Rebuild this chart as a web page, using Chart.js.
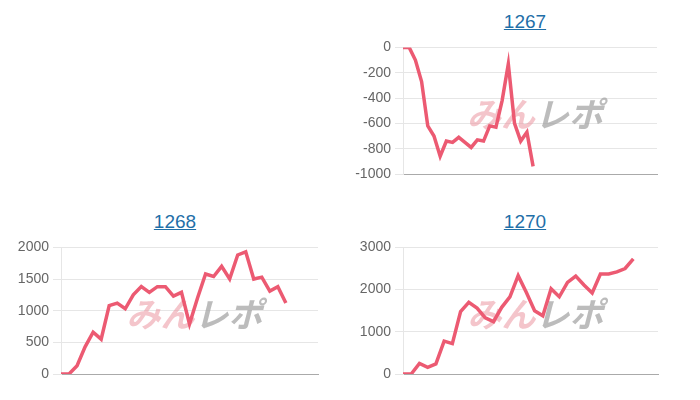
<!DOCTYPE html>
<html>
<head>
  <style>
    body { margin: 0; width: 700px; height: 400px; position: relative; font-family: Arial, "Liberation Sans", sans-serif; background: #fff; }
    .cell { position: absolute; width: 350px; height: 200px; }
    .title { position: absolute; left: 0; width: 100%; top: 11px; text-align: center; font-size: 19px; }
    .title a { color: #1f6fa8; text-decoration: underline; }
    canvas { position: absolute; left: 0; top: 35px; }
  </style>
</head>
<body>
  <div class="cell" style="left:350px;top:0"><div class="title"><a href="#">1267</a></div><canvas id="c1267" width="350" height="165"></canvas></div>
  <div class="cell" style="left:0;top:200px"><div class="title"><a href="#">1268</a></div><canvas id="c1268" width="350" height="165"></canvas></div>
  <div class="cell" style="left:350px;top:200px"><div class="title"><a href="#">1270</a></div><canvas id="c1270" width="350" height="165"></canvas></div>

  <script src="https://cdn.jsdelivr.net/npm/chart.js"></script>
  <script>
    const values1267 = [0, 0, -100, -270, -620, -700, -860, -740, -750, -710, -750, -790, -730, -740, -620, -630, -420, -130, -600, -740, -670, -940];
    const values1268 = [0, 0, 130, 430, 660, 550, 1080, 1120, 1030, 1250, 1380, 1290, 1380, 1380, 1230, 1290, 790, 1200, 1580, 1540, 1700, 1500, 1880, 1930, 1500, 1530, 1310, 1380, 1120];
    const values1270 = [0, 0, 250, 160, 240, 780, 720, 1480, 1700, 1560, 1330, 1240, 1580, 1830, 2330, 1930, 1500, 1380, 2020, 1830, 2170, 2320, 2110, 1920, 2370, 2370, 2420, 2500, 2730];
    const labelCount1267 = 42;
    const labelCount1268 = 33;
    const labelCount1270 = 32;

    // watermark logo drawn behind the line
    const watermark = {
      id: 'watermark',
      beforeDatasetsDraw(chart) {
        const a = chart.chartArea;
        const ctx = chart.ctx;
        const cx = (a.left + a.right) / 2 + 5, cy = (a.top + a.bottom) / 2 + 3;
        ctx.save();
        ctx.font = 'italic bold 34px "Noto Sans CJK JP"';
        ctx.textBaseline = 'middle';
        ctx.textAlign = 'right';
        ctx.fillStyle = 'rgba(235,150,160,0.55)';
        ctx.fillText('みん', cx, cy);
        ctx.textAlign = 'left';
        ctx.fillStyle = 'rgba(160,160,160,0.7)';
        ctx.fillText('レポ', cx, cy);
        ctx.restore();
      }
    };

    function makeChart(id, values, count, min, max, step, padRight) {
      const labels = Array.from({ length: count }, (_, i) => String(i + 1));
      new Chart(document.getElementById(id), {
        type: 'line',
        data: { labels: labels, datasets: [{ data: values, borderColor: '#ec5a72', borderWidth: 3.5, pointRadius: 0, tension: 0, fill: false }] },
        options: {
          responsive: false, animation: false,
          layout: { padding: { left: 0, right: padRight, top: 4, bottom: 18 } },
          plugins: { legend: { display: false }, tooltip: { enabled: false } },
          scales: {
            x: { ticks: { display: false }, grid: { display: false }, border: { color: '#aaa' } },
            y: {
              min: min, max: max,
              ticks: { stepSize: step, color: '#666', font: { size: 14 }, padding: 4, callback: v => String(v) },
              grid: { color: '#e6e6e6' },
              border: { color: '#e6e6e6' },
              afterFit(s) { s.width = id === 'c1268' ? 61 : 53; }
            }
          }
        },
        plugins: [watermark]
      });
    }

    makeChart('c1267', values1267, labelCount1267, -1000, 0, 200, 43);
    makeChart('c1268', values1268, labelCount1268, 0, 2000, 500, 32);
    makeChart('c1270', values1270, labelCount1270, 0, 3000, 1000, 42);
  </script>
</body>
</html>
